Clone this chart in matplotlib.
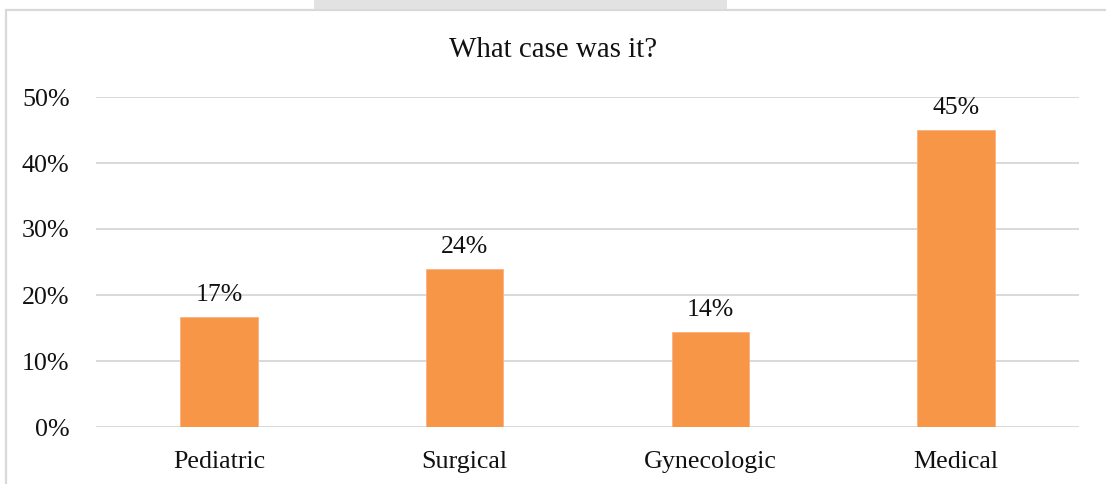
import matplotlib
matplotlib.use("Agg")
import matplotlib.pyplot as plt
from matplotlib.patches import Rectangle
from matplotlib.ticker import FuncFormatter

categories = ["Pediatric", "Surgical", "Gynecologic", "Medical"]
shares = [16.7, 23.9, 14.4, 45.0]
y_ticks = [0, 10, 20, 30, 40, 50]

W, H, DPI = 1106, 484, 100
plt.rcParams["font.family"] = ["Liberation Serif", "DejaVu Serif"]

fig = plt.figure(figsize=(W / DPI, H / DPI), dpi=DPI)
fig.patch.set_facecolor("white")

# outer chart frame (only left and top edges fall inside the image)
fig.add_artist(Rectangle((5.5 / W, -0.1), 1.2, 1.1 - 9.5 / H,
                         transform=fig.transFigure, fill=False,
                         edgecolor="#d9d9d9", linewidth=1.6))
# grey strip above the frame
fig.add_artist(Rectangle((314 / W, 1 - 8.5 / H), (727 - 314) / W, 8.5 / H + 0.01,
                         transform=fig.transFigure, facecolor="#e2e2e2",
                         edgecolor="none"))

ax = fig.add_axes([96 / W, (H - 427) / H, (1079 - 96) / W, (427 - 97) / H])
x = range(len(categories))
ax.bar(x, shares, width=0.315, color="#F79646",
       edgecolor="#f9b183", linewidth=0.6, zorder=3)

for xi, v in zip(x, shares):
    ax.annotate(f"{v:.0f}%", (xi, v), xytext=(0, 8), textcoords="offset points",
                ha="center", va="bottom", fontsize=18.5, color="#111111")

ax.set_xlim(-0.5, len(categories) - 0.5)
ax.set_ylim(0, 50)
ax.set_yticks(y_ticks)
ax.yaxis.set_major_formatter(FuncFormatter(lambda v, p: f"{v:.0f}%"))
ax.set_xticks(list(x))
ax.set_xticklabels(categories)
ax.tick_params(axis="both", length=0, labelsize=18.7, colors="#111111")
ax.tick_params(axis="x", pad=17.5)
ax.tick_params(axis="y", pad=19)
ax.grid(axis="y", color="#d9d9d9", linewidth=1.4, zorder=0)
for s in ax.spines.values():
    s.set_visible(False)

fig.text(0.5, 1 - 50 / H, "What case was it?", ha="center", va="center",
         fontsize=20.9, color="#111111")

fig.savefig("out.png", dpi=DPI, facecolor="white")
